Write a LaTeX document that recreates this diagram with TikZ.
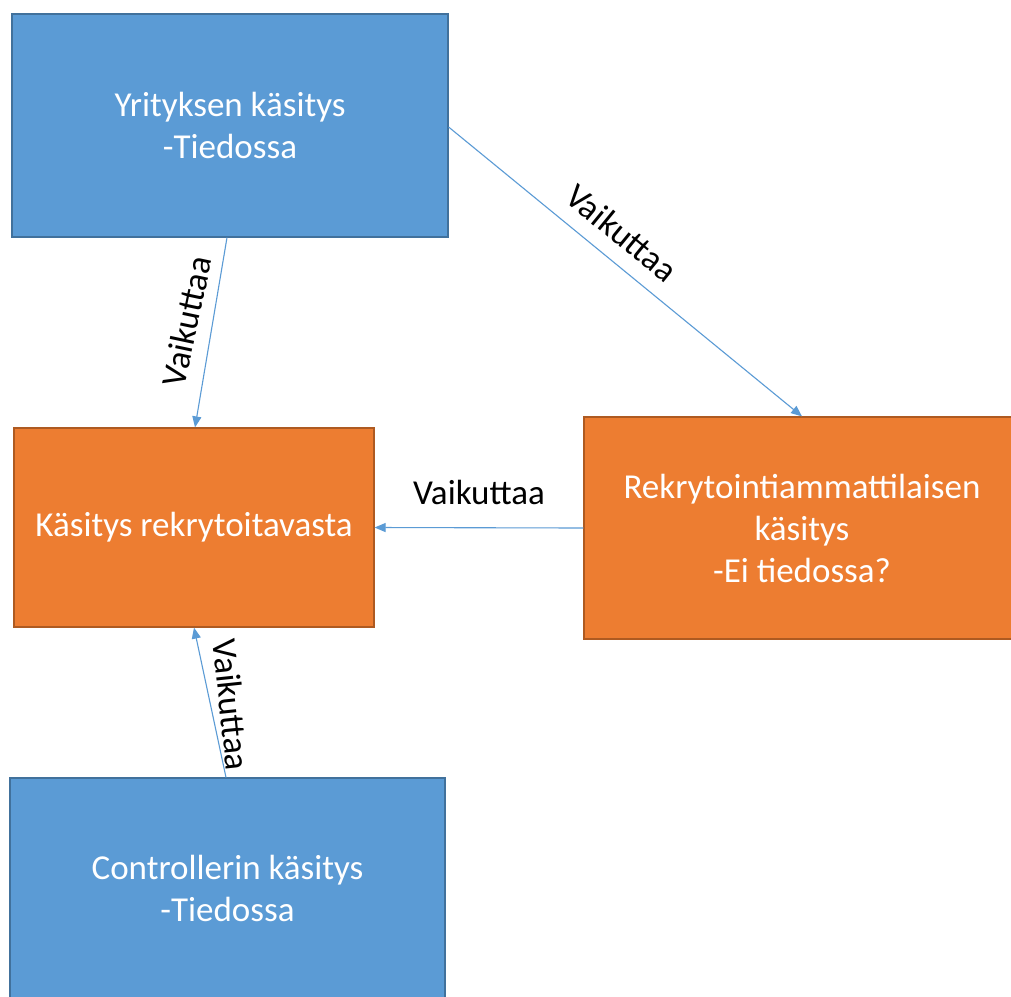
\documentclass[tikz,border=0pt]{standalone}
\usepackage{fontspec}
\setmainfont{Carlito}
\usetikzlibrary{arrows.meta}
\definecolor{boxblue}{HTML}{5B9BD5}
\definecolor{boxblueedge}{HTML}{41719C}
\definecolor{boxorange}{HTML}{ED7D31}
\definecolor{boxorangeedge}{HTML}{AE5A21}
\definecolor{linkblue}{HTML}{5B9BD5}
\begin{document}
\begin{tikzpicture}[x=1pt,y=-1pt,
  every node/.style={font=\fontsize{35}{42}\selectfont},
  bluebox/.style={draw=boxblueedge,fill=boxblue,line width=1.2pt,text=white,
    align=center,inner sep=0pt,minimum width=436pt,minimum height=223pt},
  orangebox/.style={draw=boxorangeedge,fill=boxorange,line width=1.2pt,text=white,
    align=center,inner sep=0pt},
  link/.style={draw=linkblue,line width=1.1pt,-{Triangle[length=11pt,width=9pt]}},
  linklabel/.style={text=black,inner xsep=0pt,anchor=south}
]
\clip (0,0) rectangle (1011,996);
\fill[white] (0,0) rectangle (1011,996);

% boxes
\node[bluebox] (yri) at (230,125.5) {Yrityksen käsitys\\-Tiedossa};
\node[orangebox,minimum width=360pt,minimum height=199pt] (kas) at (194,527.5)
  {Käsitys rekrytoitavasta};
\node[orangebox,minimum width=436pt,minimum height=222pt] (rek) at (802,528)
  {Rekrytointiammattilaisen\\käsitys\\-Ei tiedossa?};
\node[bluebox,minimum width=435pt,minimum height=220pt] (ctl) at (227.5,888)
  {Controllerin käsitys\\-Tiedossa};

% influence arrows
\draw[link] ([xshift=-3pt]yri.south) -- node[linklabel,pos=0.47,rotate=78,inner ysep=13pt] {Vaikuttaa}
  ([xshift=1pt]kas.north);
\draw[link] ([yshift=-1.5pt]yri.east) -- node[linklabel,pos=0.44,rotate=-39.3,inner ysep=15pt] {Vaikuttaa}
  (rek.north);
\draw[link] (rek.west) -- node[linklabel,pos=0.5,inner ysep=22pt] {Vaikuttaa} (kas.east);
\draw[link] ([xshift=-1.5pt]ctl.north) -- node[linklabel,pos=0.47,rotate=-84,inner ysep=8pt] {Vaikuttaa}
  (kas.south);
\end{tikzpicture}
\end{document}
